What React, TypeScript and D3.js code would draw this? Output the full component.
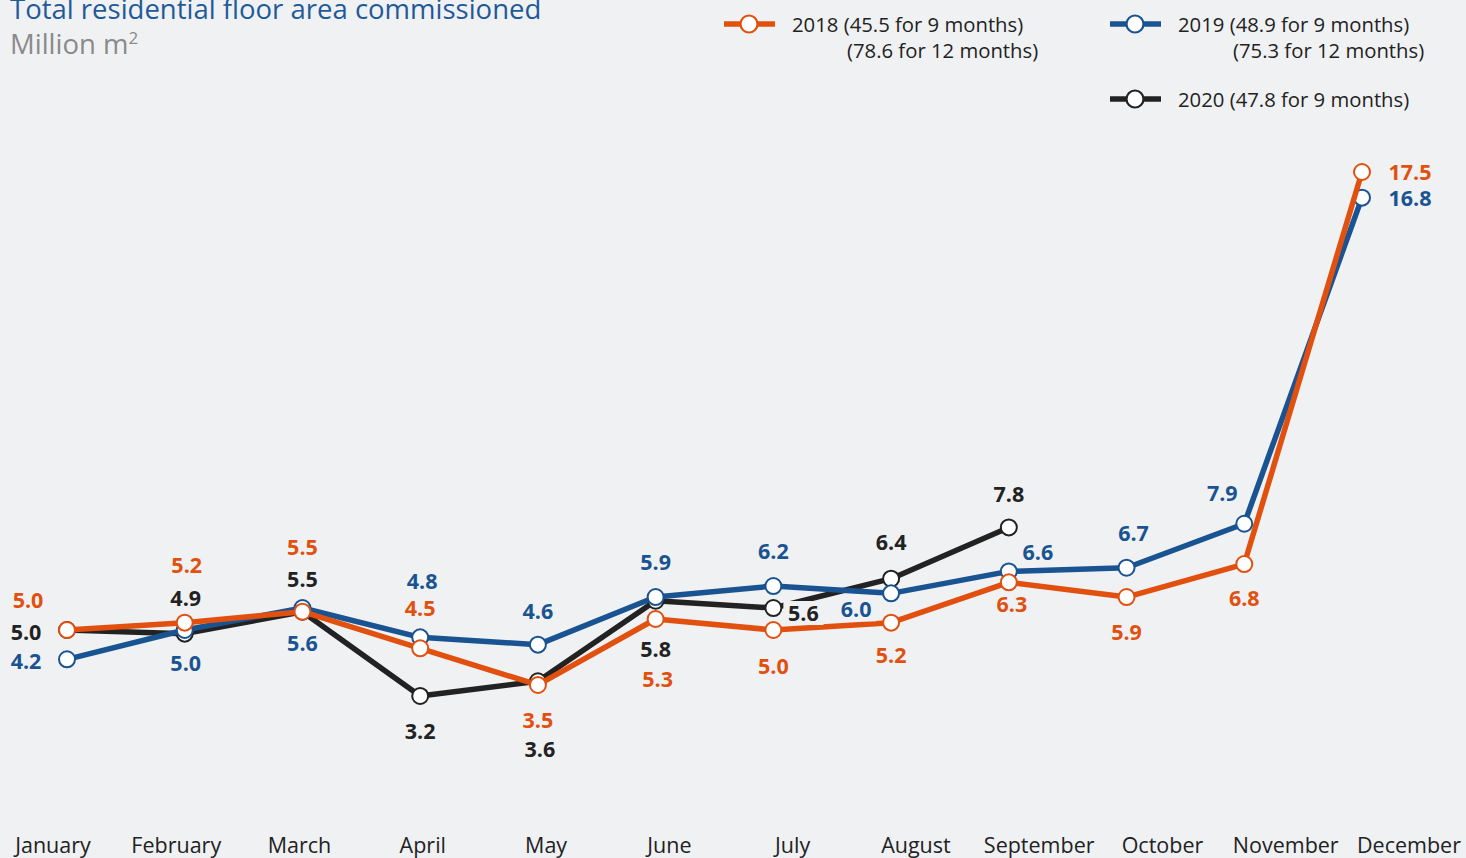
import React from "react";
import * as d3 from "d3";

const months = ["January","February","March","April","May","June","July","August","September","October","November","December"];
const s2018 = [5.0, 5.2, 5.5, 4.5, 3.5, 5.3, 5.0, 5.2, 6.3, 5.9, 6.8, 17.5];
const s2019 = [4.2, 5.0, 5.6, 4.8, 4.6, 5.9, 6.2, 6.0, 6.6, 6.7, 7.9, 16.8];
const s2020 = [5.0, 4.9, 5.5, 3.2, 3.6, 5.8, 5.6, 6.4, 7.8];
const legend2018 = ["2018 (45.5 for 9 months)", "(78.6 for 12 months)"];
const legend2019 = ["2019 (48.9 for 9 months)", "(75.3 for 12 months)"];
const legend2020 = ["2020 (47.8 for 9 months)"];

// label offsets (dx, dy) relative to each point
const off2018: [number, number][] = [[-39,-30],[2,-57],[0,-64],[0,-40],[0,35],[2,60],[0,36],[0,33],[3,22],[0,35],[0,34],[48,0]];
const off2019: [number, number][] = [[-41,2],[1,33],[0,35],[2,-56],[0,-33],[0,-35],[0,-35],[-35,16],[29,-19],[7,-34],[-22,-30],[48,1]];
const off2020: [number, number][] = [[-41,2],[1,-35],[0,-32],[0,35],[2,68],[0,49],[30,5],[0,-36],[0,-33]];

const W = 1466, H = 858;
const BG = "#f0f1f3";
const ORANGE = "#e2500f";
const BLUE = "#1a5391";
const BLACK = "#222222";
const FONT = "'Open Sans', 'Noto Sans', sans-serif";

export default function App() {
  const x = d3.scalePoint<string>().domain(months).range([67, 1362]);
  const xLab = d3.scalePoint<string>().domain(months).range([53, 1409]);
  const y = d3.scaleLinear().domain([0, 20]).range([813.2, 80.4]);
  const line = d3.line<number>().x((_, i) => x(months[i])!).y(v => y(v));

  const series = [
    { data: s2020, color: BLACK, off: off2020, bgLabel: [6] },
    { data: s2019, color: BLUE, off: off2019, bgLabel: [7] },
    { data: s2018, color: ORANGE, off: off2018, bgLabel: [] as number[] },
  ];

  const legendItem = (lx: number, ly: number, color: string, lines: string[], indent: number) => (
    <g>
      <line x1={lx} x2={lx + 51} y1={ly} y2={ly} stroke={color} strokeWidth={5.5} />
      <circle cx={lx + 25} cy={ly} r={8.5} fill="#fff" stroke={color} strokeWidth={2.2} />
      {lines.map((t, i) => (
        <text key={i} x={lx + 68 + (i > 0 ? indent : 0)} y={ly + 8 + i * 26} fontSize={20.3} fill={BLACK} fontFamily={FONT}>{t}</text>
      ))}
    </g>
  );

  return (
    <div style={{ position: "fixed", left: 0, top: 0 }}>
      <svg width={W} height={H} style={{ display: "block" }}>
        <rect width={W} height={H} fill={BG} />
        <text x={10} y={19} fontSize={27.5} fill="#1f5a99" fontFamily={FONT}>Total residential floor area commissioned</text>
        <text x={10} y={54} fontSize={27.5} fill="#8a8a8a" fontFamily={FONT}>Million m<tspan dy={-10} fontSize={17}>2</tspan></text>

        {legendItem(724, 24, ORANGE, legend2018, 55)}
        {legendItem(1110, 24, BLUE, legend2019, 55)}
        {legendItem(1110, 99, BLACK, legend2020, 0)}

        {series.map((s, si) => (
          <g key={si}>
            <path d={line(s.data)!} fill="none" stroke={s.color} strokeWidth={5.5} strokeLinejoin="round" />
            {s.data.map((v, i) => (
              <circle key={i} cx={x(months[i])!} cy={y(v)} r={8} fill="#fff" stroke={s.color} strokeWidth={2} />
            ))}
          </g>
        ))}
        {series.map((s, si) => (
          <g key={"l" + si}>
            {s.data.map((v, i) => {
              const cx = x(months[i])! + s.off[i][0];
              const cy = y(v) + s.off[i][1];
              return (
                <g key={i}>
                  {s.bgLabel.includes(i) && <rect x={cx - 20} y={cy - 12} width={40} height={24} fill={BG} />}
                  <text x={cx} y={cy} dy="0.36em" textAnchor="middle" fontSize={21.5} fontWeight={700} fill={s.color} fontFamily={FONT}>{v.toFixed(1)}</text>
                </g>
              );
            })}
          </g>
        ))}

        {months.map(m => (
          <text key={m} x={xLab(m)!} y={853} textAnchor="middle" fontSize={21.5} fill={BLACK} fontFamily={FONT} fontWeight={400}>{m}</text>
        ))}
      </svg>
    </div>
  );
}
